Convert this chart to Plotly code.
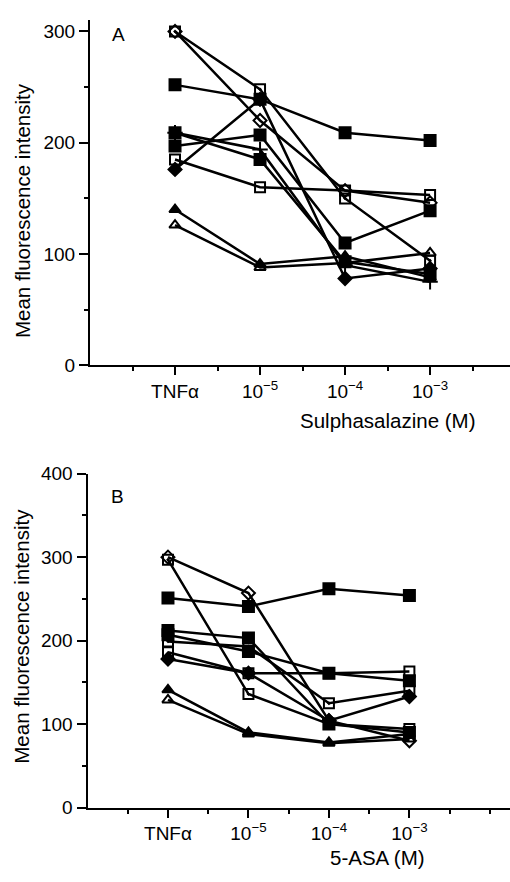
import plotly.graph_objects as go

# ---- data ----
categories = ["TNFα", "10<sup>−5</sup>", "10<sup>−4</sup>", "10<sup>−3</sup>"]
cat_pos = [1, 2, 3, 4]

# Panel A: sulphasalazine
a1 = [252, 239, 209, 202]
a2 = [185, 160, 157, 153]
a3 = [300, 220, 157, 146]
a4 = [300, 248, 150, 94]
a5 = [176, 239, 78, 87]
a6 = [197, 207, 110, 139]
a7 = [209, 194, 90, 75]
a8 = [209, 185, 93, 82]
a9 = [140, 91, 98, 79]
a10 = [126, 88, 92, 101]

# Panel B: 5-ASA
b1 = [251, 241, 262, 254]
b2 = [300, 257, 104, 80]
b3 = [297, 136, 100, 94]
b4 = [186, 161, 161, 163]
b5 = [178, 161, 104, 133]
b6 = [212, 203, 100, 90]
b7 = [207, 187, 161, 152]
b8 = [199, 193, 125, 140]
b9 = [141, 90, 78, 88]
b10 = [129, 88, 77, 82]

y_ticks_a = [0, 100, 200, 300]
y_ticks_b = [0, 100, 200, 300, 400]

series_a = [a1, a2, a3, a4, a5, a6, a7, a8, a9, a10]
series_b = [b1, b2, b3, b4, b5, b6, b7, b8, b9, b10]
symbols = ["square", "square-open", "diamond-open", "square-open-dot", "diamond",
           "square", "cross-thin-open", "square", "triangle-up", "triangle-up-open"]
symbols_b = ["square", "diamond-open", "square-open-dot", "square-open", "diamond",
             "square", "square", "square-open-dot", "triangle-up", "triangle-up-open"]

fig = go.Figure()

def add(series, syms, xa, ya):
    for s, sym in zip(series, syms):
        size = 10
        if sym == "square":
            size = 11
        if "cross" in sym:
            size = 11
        fig.add_trace(go.Scatter(
            x=cat_pos, y=s, xaxis=xa, yaxis=ya, mode="lines+markers",
            line=dict(color="black", width=2.5),
            marker=dict(symbol=sym, size=size, color="black",
                        line=dict(color="black", width=2)),
            showlegend=False, hoverinfo="skip"))

add(series_a, symbols, "x", "y")
add(series_b, symbols_b, "x2", "y2")

W, H = 510, 882
font = dict(family="Liberation Sans, Arial, sans-serif", size=19, color="black")

def xaxis(domain_left, rng, minor_vals):
    return dict(domain=[domain_left, 1], range=rng, showline=True, linecolor="black",
                linewidth=2, ticks="outside", ticklen=8, tickwidth=2, tickcolor="black",
                tickmode="array", tickvals=cat_pos, ticktext=categories,
                showgrid=False, zeroline=False, tickfont=font,
                minor=dict(tickmode="array", tickvals=minor_vals, ticks="outside",
                           ticklen=4, tickwidth=2, tickcolor="black", showgrid=False))

def yaxis(domain, rng, tickvals, anchor):
    return dict(domain=domain, range=rng, showline=True, linecolor="black",
                linewidth=2, ticks="outside", ticklen=9, tickwidth=2, tickcolor="black",
                tickmode="array", tickvals=tickvals, showgrid=False, zeroline=False,
                tickfont=font, anchor=anchor,
                minor=dict(dtick=50, tick0=0, ticks="outside", ticklen=4, tickwidth=2,
                           tickcolor="black", showgrid=False))

fig.update_layout(
    width=W, height=H, margin=dict(l=0, r=0, t=0, b=0),
    paper_bgcolor="white", plot_bgcolor="white", font=font,
    xaxis=xaxis(90 / W, [0, 4.94], [0.5, 1.5, 2.5, 3.5, 4.5]) | dict(anchor="y"),
    yaxis=yaxis([1 - 364 / H, 1 - 10 / H], [0, 310.5], y_ticks_a, "x"),
    xaxis2=xaxis(87.5 / W, [0, 5.25], [0.5, 1.5, 2.5, 3.5, 4.5, 5.0]) | dict(anchor="y2"),
    yaxis2=yaxis([1 - 817 / H, 1 - 475 / H], [0, 400], y_ticks_b, "x2"),
)

title_font = dict(family="Liberation Sans, Arial, sans-serif", size=20.5, color="black")
ann = [
    dict(text="A", x=118 / W, y=1 - 25 / H, font=dict(size=19, family=title_font["family"], color="black")),
    dict(text="B", x=117 / W, y=1 - 498 / H, font=dict(size=19, family=title_font["family"], color="black")),
    dict(text="Sulphasalazine (M)", x=387 / W, y=1 - 421 / H, font=title_font),
    dict(text="5-ASA (M)", x=377 / W, y=1 - 868 / H, font=title_font),
    dict(text="Mean fluorescence intensity", x=22 / W, y=1 - 206 / H, font=title_font, textangle=-90),
    dict(text="Mean fluorescence intensity", x=22 / W, y=1 - 642 / H, font=title_font, textangle=-90),
]
for a in ann:
    fig.add_annotation(xref="paper", yref="paper", showarrow=False,
                       xanchor="center", yanchor="middle", **a)

fig.write_html("out.html", config={"displayModeBar": False},
               post_script="document.body.style.margin='0';document.body.style.overflow='hidden';")
